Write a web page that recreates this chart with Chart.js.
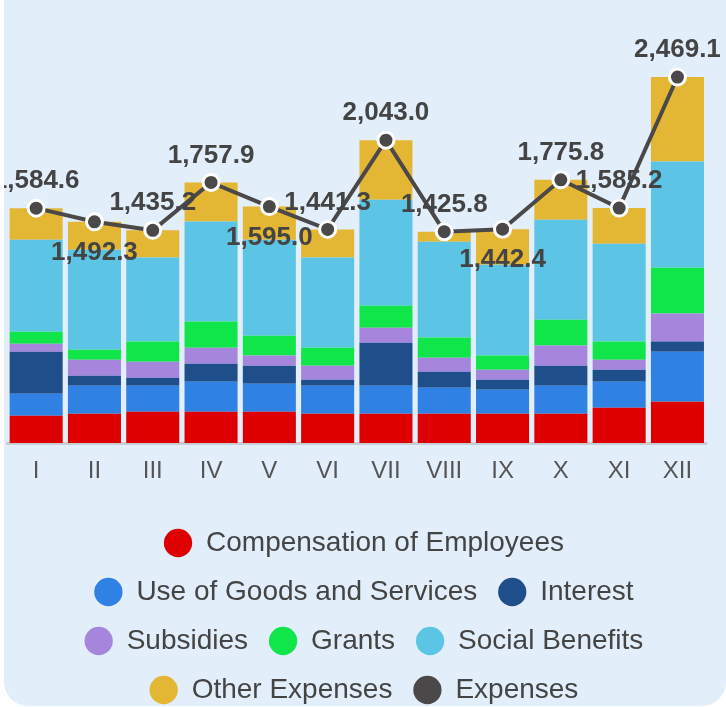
<!DOCTYPE html>
<html>
<head>
<meta charset="utf-8">
<script src="https://cdn.jsdelivr.net/npm/chart.js@4.4.1/dist/chart.umd.min.js"></script>
<style>
  html, body { margin: 0; padding: 0; width: 726px; height: 707px; overflow: hidden; background: #fff; }
  #card { position: absolute; left: 4px; top: -40px; width: 722px; height: 746px; background: #e2effb; border-radius: 24px; }
  #wrap { position: absolute; left: 4px; top: 0; width: 720px; height: 714px; }
</style>
</head>
<body>
<div id="card"></div>
<div id="wrap"><canvas id="chart"></canvas></div>
<script>
// --- Datos ---
const months = ['I', 'II', 'III', 'IV', 'V', 'VI', 'VII', 'VIII', 'IX', 'X', 'XI', 'XII'];

const compensation = [184, 198, 211, 211, 211, 198, 198, 198, 198, 198, 238, 279];
const goodsServices = [149, 189, 176, 203, 189, 189, 189, 175, 162, 189, 176, 337];
const interest = [283, 67, 54, 121, 122, 40, 290, 108, 67, 135, 81, 68];
const subsidies = [54, 108, 108, 108, 68, 95, 101, 95, 68, 135, 67, 189];
const grants = [81, 68, 135, 176, 134, 121, 148, 135, 95, 175, 122, 310];
const socialBenefits = [621, 674, 568, 676, 647, 609, 716, 647, 613, 675, 661, 717];
const otherExpenses = [212.6, 188.3, 183.2, 262.9, 224.0, 189.3, 401.0, 67.8, 239.4, 268.8, 240.2, 569.1];
const expenses = [1584.6, 1492.3, 1435.2, 1757.9, 1595.0, 1441.3, 2043.0, 1425.8, 1442.4, 1775.8, 1585.2, 2469.1];

// --- Etiquetas de la línea ---
const lineLabels = {
  id: 'lineLabels',
  afterDatasetsDraw(chart, args, opts) {
    const meta = chart.getDatasetMeta(opts.datasetIndex);
    const ctx = chart.ctx;
    ctx.save();
    ctx.font = opts.font;
    ctx.fillStyle = opts.color;
    ctx.textAlign = 'center';
    ctx.textBaseline = 'middle';
    meta.data.forEach((pt, i) => {
      const v = chart.data.datasets[opts.datasetIndex].data[i];
      const txt = v.toLocaleString('en-US', { minimumFractionDigits: 1, maximumFractionDigits: 1 });
      const dy = opts.side[i] === 'below' ? opts.offsetBelow : -opts.offsetAbove;
      ctx.fillText(txt, pt.x, pt.y + dy);
    });
    ctx.restore();
  }
};

Chart.defaults.font.family = "Arial, 'Liberation Sans', sans-serif";

const bar = (label, data, color) => ({
  type: 'bar', label, data, backgroundColor: color, borderWidth: 0, order: 1, stack: 'bars'
});

new Chart(document.getElementById('chart'), {
  data: {
    labels: months,
    datasets: [
      bar('Compensation of Employees', compensation, '#de0000'),
      bar('Use of Goods and Services', goodsServices, '#2f82e3'),
      bar('Interest', interest, '#1e4f8a'),
      bar('Subsidies', subsidies, '#a586dc'),
      bar('Grants', grants, '#10e64a'),
      bar('Social Benefits', socialBenefits, '#5cc4e4'),
      bar('Other Expenses', otherExpenses, '#e3b734'),
      {
        type: 'line', label: 'Expenses', data: expenses, stack: 'total', order: 0,
        borderColor: '#4a4849', backgroundColor: '#4a4849', borderWidth: 4, tension: 0,
        pointRadius: 8, pointHoverRadius: 8, pointBackgroundColor: '#4a4849',
        pointBorderColor: '#ffffff', pointBorderWidth: 3
      }
    ]
  },
  options: {
    responsive: true,
    maintainAspectRatio: false,
    animation: false,
    layout: { autoPadding: false, padding: { top: 28, left: 3, right: 3, bottom: 0 } },
    datasets: { bar: { categoryPercentage: 1, barPercentage: 0.91 } },
    scales: {
      x: {
        stacked: true,
        grid: { display: false, drawTicks: false },
        border: { display: true, color: '#c7ced6', width: 3 },
        ticks: { color: '#555', font: { size: 24 }, padding: 14 },
        afterFit: s => { s.height = 65; }
      },
      y: {
        stacked: true, position: 'right', min: 0, max: 2800,
        grid: { display: false }, border: { display: false },
        ticks: { display: false },
        afterFit: s => { s.width = 14.4; }
      }
    },
    plugins: {
      tooltip: { enabled: false },
      legend: {
        position: 'bottom',
        labels: {
          color: '#444', font: { size: 28 }, usePointStyle: true, pointStyle: 'circle',
          boxWidth: 28, boxHeight: 20, padding: 21,
          sort: (a, b) => a.datasetIndex - b.datasetIndex,
          generateLabels(chart) {
            const items = Chart.defaults.plugins.legend.labels.generateLabels(chart);
            items.forEach(it => { it.lineWidth = 0; it.strokeStyle = it.fillStyle; });
            return items;
          }
        }
      },
      lineLabels: {
        datasetIndex: 7, font: "bold 26px Arial, 'Liberation Sans', sans-serif", color: '#444',
        offsetAbove: 27, offsetBelow: 31,
        side: ['above', 'below', 'above', 'above', 'below', 'above', 'above', 'above', 'below', 'above', 'above', 'above']
      }
    }
  },
  plugins: [lineLabels]
});
</script>
</body>
</html>
